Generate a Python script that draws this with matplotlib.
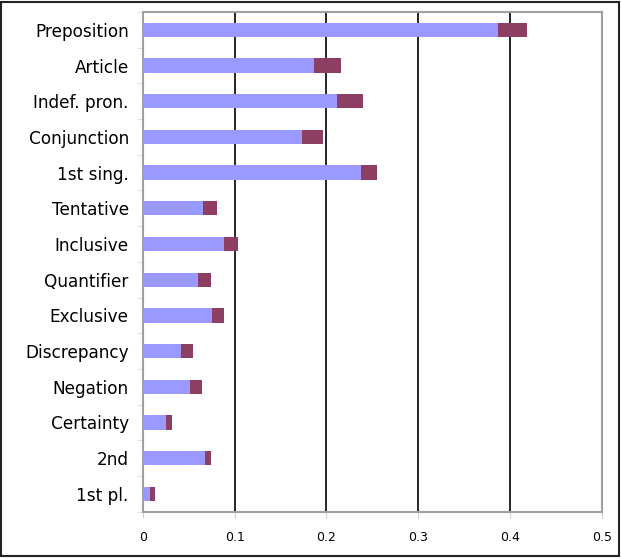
import matplotlib
matplotlib.use("Agg")
import matplotlib.pyplot as plt
from matplotlib.patches import Rectangle
import numpy as np

categories = ["Preposition", "Article", "Indef. pron.", "Conjunction", "1st sing.",
              "Tentative", "Inclusive", "Quantifier", "Exclusive", "Discrepancy",
              "Negation", "Certainty", "2nd", "1st pl."]
base = [0.387, 0.187, 0.212, 0.173, 0.238, 0.066, 0.089, 0.060, 0.075, 0.042,
        0.0515, 0.025, 0.068, 0.008]
extra = [0.031, 0.029, 0.028, 0.023, 0.017, 0.015, 0.015, 0.014, 0.014, 0.013,
         0.0135, 0.007, 0.006, 0.005]
xticks = [0, 0.1, 0.2, 0.3, 0.4, 0.5]
xticklabels = ["0", "0.1", "0.2", "0.3", "0.4", "0.5"]

fig = plt.figure(figsize=(6.21, 5.59), dpi=100)
ax = fig.add_axes([0.2298, 0.0846, 0.7396, 0.8939])

y = np.arange(len(categories))
ax.barh(y, base, height=0.4, color="#9999FF", zorder=3)
ax.barh(y, extra, left=base, height=0.4, color="#8E3E63", zorder=3)

ax.set_xlim(0, 0.5)
ax.set_ylim(len(categories) - 0.5, -0.5)
ax.set_xticks(xticks)
ax.set_xticklabels(xticklabels, fontsize=9)
ax.set_yticks(y)
ax.set_yticklabels(categories, fontsize=12.2)
ax.tick_params(axis="y", length=0, pad=10)
ax.set_yticks(np.arange(len(categories) + 1) - 0.5, minor=True)
ax.tick_params(axis="y", which="minor", length=4, color="#dddddd")
ax.tick_params(axis="x", length=4, color="#cccccc", pad=10)

for xv in xticks[1:-1]:
    ax.axvline(xv, color="black", lw=1.2, zorder=2)

for s in ax.spines.values():
    s.set_color("#a0a0a0")
    s.set_linewidth(1.5)

fig.patches.append(Rectangle((0.001, 0.005), 0.996, 0.992, transform=fig.transFigure,
                             fill=False, edgecolor="#222222", lw=1.5))

fig.savefig("out.png", dpi=100)
